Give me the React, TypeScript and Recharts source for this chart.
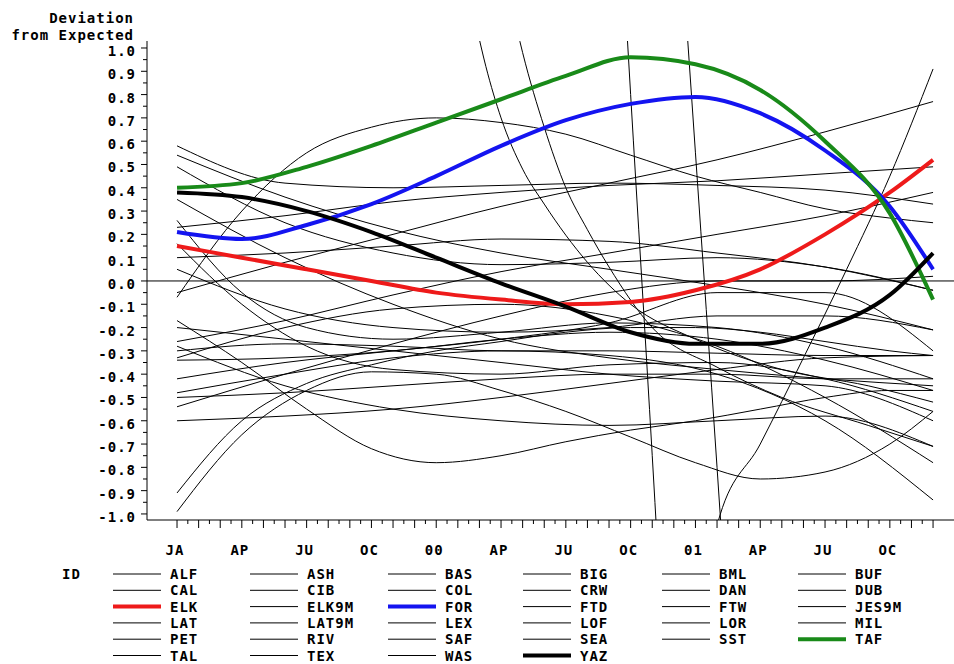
import { LineChart, Line, XAxis, YAxis, ReferenceLine } from "recharts"

type Pt = [number, number]

// x = month index, 0 = January 1999 ... 35 = December 2001
const ALF: Pt[] = [[0, 0.58], [5, 0.42], [10, 0.4], [15, 0.41], [20, 0.42], [25, 0.41], [30, 0.39], [35, 0.33]]
const ASH: Pt[] = [[0, -0.07], [3, 0.3], [6, 0.55], [9, 0.66], [12, 0.7], [15, 0.68], [18, 0.63], [21, 0.54], [24, 0.45], [27, 0.38], [30, 0.31], [33, 0.27], [35, 0.25]]
const BAS: Pt[] = [[0, -0.05], [5, 0.08], [10, 0.2], [15, 0.32], [20, 0.42], [25, 0.52], [30, 0.64], [35, 0.77]]
const BIG: Pt[] = [[0, 0.54], [5, 0.36], [10, 0.22], [15, 0.12], [20, 0.05], [25, -0.02], [30, -0.1], [35, -0.21]]
const BML: Pt[] = [[0, 0.49], [5, 0.25], [10, 0.12], [15, 0.07], [20, 0.08], [25, 0.1], [30, 0.06], [35, -0.04]]
const BUF: Pt[] = [[0, 0.23], [5, 0.28], [10, 0.34], [15, 0.38], [20, 0.41], [25, 0.43], [30, 0.46], [35, 0.49]]
const CAL: Pt[] = [[0, 0.26], [3, -0.05], [6, -0.2], [10, -0.25], [15, -0.22], [20, -0.18], [25, -0.2], [30, -0.28], [35, -0.42]]
const CIB: Pt[] = [[0, 0.16], [3, -0.1], [6, -0.28], [10, -0.38], [15, -0.4], [20, -0.36], [25, -0.35], [30, -0.42], [35, -0.56]]
const COL: Pt[] = [[0, -0.17], [3, -0.35], [6, -0.55], [9, -0.72], [12, -0.78], [15, -0.75], [18, -0.69], [21, -0.64], [24, -0.6], [27, -0.55], [30, -0.5], [33, -0.47], [35, -0.47]]
const CRW: Pt[] = [[13.5, 1.25], [14.3, 0.92], [15, 0.7], [16, 0.48], [17, 0.33], [19, 0.08], [21, -0.1], [24, -0.25], [28, -0.38], [32, -0.45], [35, -0.52]]
const DAN: Pt[] = [[0, -0.99], [3, -0.66], [6, -0.47], [9, -0.39], [12, -0.4], [15, -0.47], [18, -0.56], [21, -0.67], [24, -0.78], [27, -0.85], [30, -0.82], [33, -0.7], [35, -0.56]]
const DUB: Pt[] = [[0, -0.91], [3, -0.6], [6, -0.44], [9, -0.36], [12, -0.3], [15, -0.26], [18, -0.22], [21, -0.2], [24, -0.2], [27, -0.22], [30, -0.26], [33, -0.3], [35, -0.32]]
const ELK: Pt[] = [[0, 0.15], [3, 0.1], [6, 0.05], [9, 0.0], [12, -0.05], [15, -0.08], [18, -0.1], [21, -0.09], [24, -0.04], [27, 0.05], [30, 0.2], [33, 0.38], [35, 0.52]]
const ELK9M: Pt[] = [[15, 1.4], [16, 0.98], [17, 0.66], [18, 0.4], [19, 0.22], [20, 0.06], [22, -0.2], [25, -0.37], [28, -0.5], [32, -0.62], [35, -0.71]]
const FOR: Pt[] = [[0, 0.21], [3, 0.18], [6, 0.24], [9, 0.33], [12, 0.45], [15, 0.58], [18, 0.69], [21, 0.76], [24, 0.79], [27, 0.72], [30, 0.56], [33, 0.32], [35, 0.05]]
const FTD: Pt[] = [[0, -0.26], [5, -0.17], [10, -0.06], [15, 0.04], [20, 0.12], [25, 0.2], [30, 0.28], [35, 0.38]]
const FTW: Pt[] = [[0, -0.3], [5, -0.27], [10, -0.28], [15, -0.3], [20, -0.3], [25, -0.31], [30, -0.32], [35, -0.32]]
const JES9M: Pt[] = [[20, 2.4], [21, 0.8], [22, -0.75], [23, -2.4]]
const LAT: Pt[] = [[0, -0.33], [5, -0.2], [10, -0.12], [15, -0.1], [20, -0.15], [25, -0.28], [30, -0.5], [35, -0.78]]
const LAT9M: Pt[] = [[0, -0.34], [5, -0.33], [10, -0.3], [15, -0.25], [20, -0.22], [25, -0.25], [30, -0.34], [35, -0.47]]
const LEX: Pt[] = [[0, -0.48], [5, -0.4], [10, -0.33], [15, -0.3], [20, -0.32], [25, -0.4], [30, -0.6], [35, -0.94]]
const LOF: Pt[] = [[0, -0.5], [5, -0.48], [10, -0.45], [15, -0.42], [20, -0.4], [25, -0.4], [30, -0.42], [35, -0.42]]
const LOR: Pt[] = [[0, -0.54], [5, -0.4], [10, -0.27], [15, -0.15], [20, -0.05], [25, 0.0], [30, 0.0], [35, 0.02]]
const MIL: Pt[] = [[23, 1.9], [24, 0.55], [25, -0.8], [26, -2.2]]
const PET: Pt[] = [[24, -2.3], [25, -1.05], [27, -0.7], [29, -0.33], [31, 0.05], [33, 0.45], [35, 0.91]]
const RIV: Pt[] = [[0, 0.1], [5, 0.12], [10, 0.15], [15, 0.18], [20, 0.17], [25, 0.12], [30, 0.06], [35, -0.04]]
const SAF: Pt[] = [[0, 0.05], [5, -0.12], [10, -0.2], [15, -0.22], [20, -0.2], [25, -0.15], [30, -0.15], [35, -0.21]]
const SEA: Pt[] = [[0, -0.28], [5, -0.45], [10, -0.55], [15, -0.6], [20, -0.62], [25, -0.6], [30, -0.58], [35, -0.71]]
const SST: Pt[] = [[0, 0.35], [5, 0.1], [10, -0.1], [15, -0.25], [20, -0.33], [25, -0.38], [30, -0.42], [35, -0.45]]
const TAF: Pt[] = [[0, 0.4], [3, 0.42], [6, 0.49], [9, 0.58], [12, 0.68], [15, 0.78], [18, 0.88], [21, 0.96], [24, 0.93], [27, 0.82], [30, 0.6], [33, 0.29], [35, -0.08]]
const TAL: Pt[] = [[0, -0.42], [5, -0.35], [10, -0.3], [15, -0.25], [20, -0.18], [25, -0.05], [30, -0.05], [35, -0.3]]
const TEX: Pt[] = [[0, -0.2], [5, -0.25], [10, -0.3], [15, -0.35], [20, -0.4], [25, -0.43], [30, -0.45], [35, -0.6]]
const WAS: Pt[] = [[0, -0.6], [5, -0.58], [10, -0.55], [15, -0.5], [20, -0.44], [25, -0.38], [30, -0.33], [35, -0.32]]
const YAZ: Pt[] = [[0, 0.38], [3, 0.36], [6, 0.3], [9, 0.21], [12, 0.1], [15, -0.01], [18, -0.11], [21, -0.22], [24, -0.27], [27, -0.27], [30, -0.2], [33, -0.06], [35, 0.12]]

const series: Record<string, Pt[]> = {
  ALF, ASH, BAS, BIG, BML, BUF, CAL, CIB, COL, CRW, DAN, DUB, ELK, ELK9M, FOR, FTD, FTW,
  JES9M, LAT, LAT9M, LEX, LOF, LOR, MIL, PET, RIV, SAF, SEA, SST, TAF, TAL, TEX, WAS, YAZ,
}
const ids = Object.keys(series)

// highlighted stations get a thick coloured line
const highlight: Record<string, string> = {
  ELK: "#ee1a1a",
  FOR: "#1414f0",
  TAF: "#198a19",
  YAZ: "#000000",
}

const monthLabels = ["JA", "AP", "JU", "OC", "00", "AP", "JU", "OC", "01", "AP", "JU", "OC"]

const xDomain: [number, number] = [-1.39, 35.97]
const yDomain: [number, number] = [-1.026, 1.03]
const xTicks = Array.from({ length: 71 }, (_, i) => i / 2)
const yTicks = Array.from({ length: 41 }, (_, i) => Math.round((i * 0.05 - 1) * 100) / 100)

const FONT = "'DejaVu Sans Mono', monospace"

const toPoints = (pts: Pt[]) => pts.map(([m, v]) => ({ m, v }))

const MonthTick = (props: any) => {
  const { x, y, payload } = props
  const m = payload.value as number
  const whole = Number.isInteger(m)
  const label = whole && m % 3 === 0 ? monthLabels[m / 3] : null
  return (
    <g>
      <line x1={x} x2={x} y1={y} y2={y + (whole ? 8 : 4)} stroke="#000" />
      {label && (
        <text x={x - 2} y={y + 35} textAnchor="middle" fontFamily={FONT} fontWeight="bold" fontSize={14} letterSpacing={1} fill="#000">
          {label}
        </text>
      )}
    </g>
  )
}

const DevTick = (props: any) => {
  const { x, y, payload } = props
  const v = payload.value as number
  const major = Math.round(v * 20) % 2 === 0
  return (
    <g>
      <line x1={x} x2={x - (major ? 6 : 4)} y1={y} y2={y} stroke="#000" />
      {major && (
        <text x={x - 11} y={y + 8} textAnchor="end" fontFamily={FONT} fontWeight="bold" fontSize={14} letterSpacing={1} fill="#000">
          {v.toFixed(1)}
        </text>
      )}
    </g>
  )
}

const legendCols = [113, 250, 388, 523, 662, 798]

export default function App() {
  const thin = ids.filter((id) => !highlight[id])
  const bold = ids.filter((id) => highlight[id])

  return (
    <div style={{ position: "absolute", left: 0, top: 0, width: 954, height: 664, background: "#fff" }}>
      <LineChart width={954} height={664} margin={{ top: 41, right: 0, left: 0, bottom: 0 }}>
        <XAxis
          xAxisId="top"
          orientation="top"
          type="number"
          dataKey="m"
          domain={xDomain}
          allowDataOverflow
          height={0}
          tick={false}
          tickLine={false}
          axisLine={{ stroke: "#000" }}
        />
        <XAxis
          type="number"
          dataKey="m"
          domain={xDomain}
          allowDataOverflow
          ticks={xTicks}
          interval={0}
          tick={(p: any) => <MonthTick {...p} />}
          tickLine={false}
          tickSize={0}
          tickMargin={0}
          height={144}
          axisLine={{ stroke: "#000" }}
        />
        <YAxis
          type="number"
          domain={yDomain}
          allowDataOverflow
          ticks={yTicks}
          interval={0}
          tick={(p: any) => <DevTick {...p} />}
          tickLine={false}
          tickSize={0}
          tickMargin={0}
          width={147}
          axisLine={{ stroke: "#000" }}
        />
        <ReferenceLine y={0} stroke="#000" />
        {thin.map((id) => (
          <Line
            key={id}
            name={id}
            data={toPoints(series[id])}
            dataKey="v"
            type="monotone"
            stroke="#000"
            strokeWidth={1}
            dot={false}
            activeDot={false}
            isAnimationActive={false}
          />
        ))}
        {bold.map((id) => (
          <Line
            key={id}
            name={id}
            data={toPoints(series[id])}
            dataKey="v"
            type="monotone"
            stroke={highlight[id]}
            strokeWidth={4}
            dot={false}
            activeDot={false}
            isAnimationActive={false}
          />
        ))}
      </LineChart>

      <svg width={954} height={664} style={{ position: "absolute", left: 0, top: 0, pointerEvents: "none" }}>
        <g fontFamily={FONT} fontWeight="bold" fontSize={14} letterSpacing={1} fill="#000">
          <text x={134} y={23} textAnchor="end">Deviation</text>
          <text x={134} y={40} textAnchor="end">from Expected</text>
          <text x={62} y={579}>ID</text>
          {ids.map((id, i) => {
            const row = Math.floor(i / 6)
            const x0 = legendCols[i % 6]
            const cy = 574 + row * 16.3
            return (
              <g key={id}>
                <line
                  x1={x0}
                  x2={x0 + 48}
                  y1={cy}
                  y2={cy}
                  stroke={highlight[id] || "#000"}
                  strokeWidth={highlight[id] ? 4 : 1}
                />
                <text x={x0 + 57} y={cy + 5}>{id}</text>
              </g>
            )
          })}
        </g>
      </svg>
    </div>
  )
}
